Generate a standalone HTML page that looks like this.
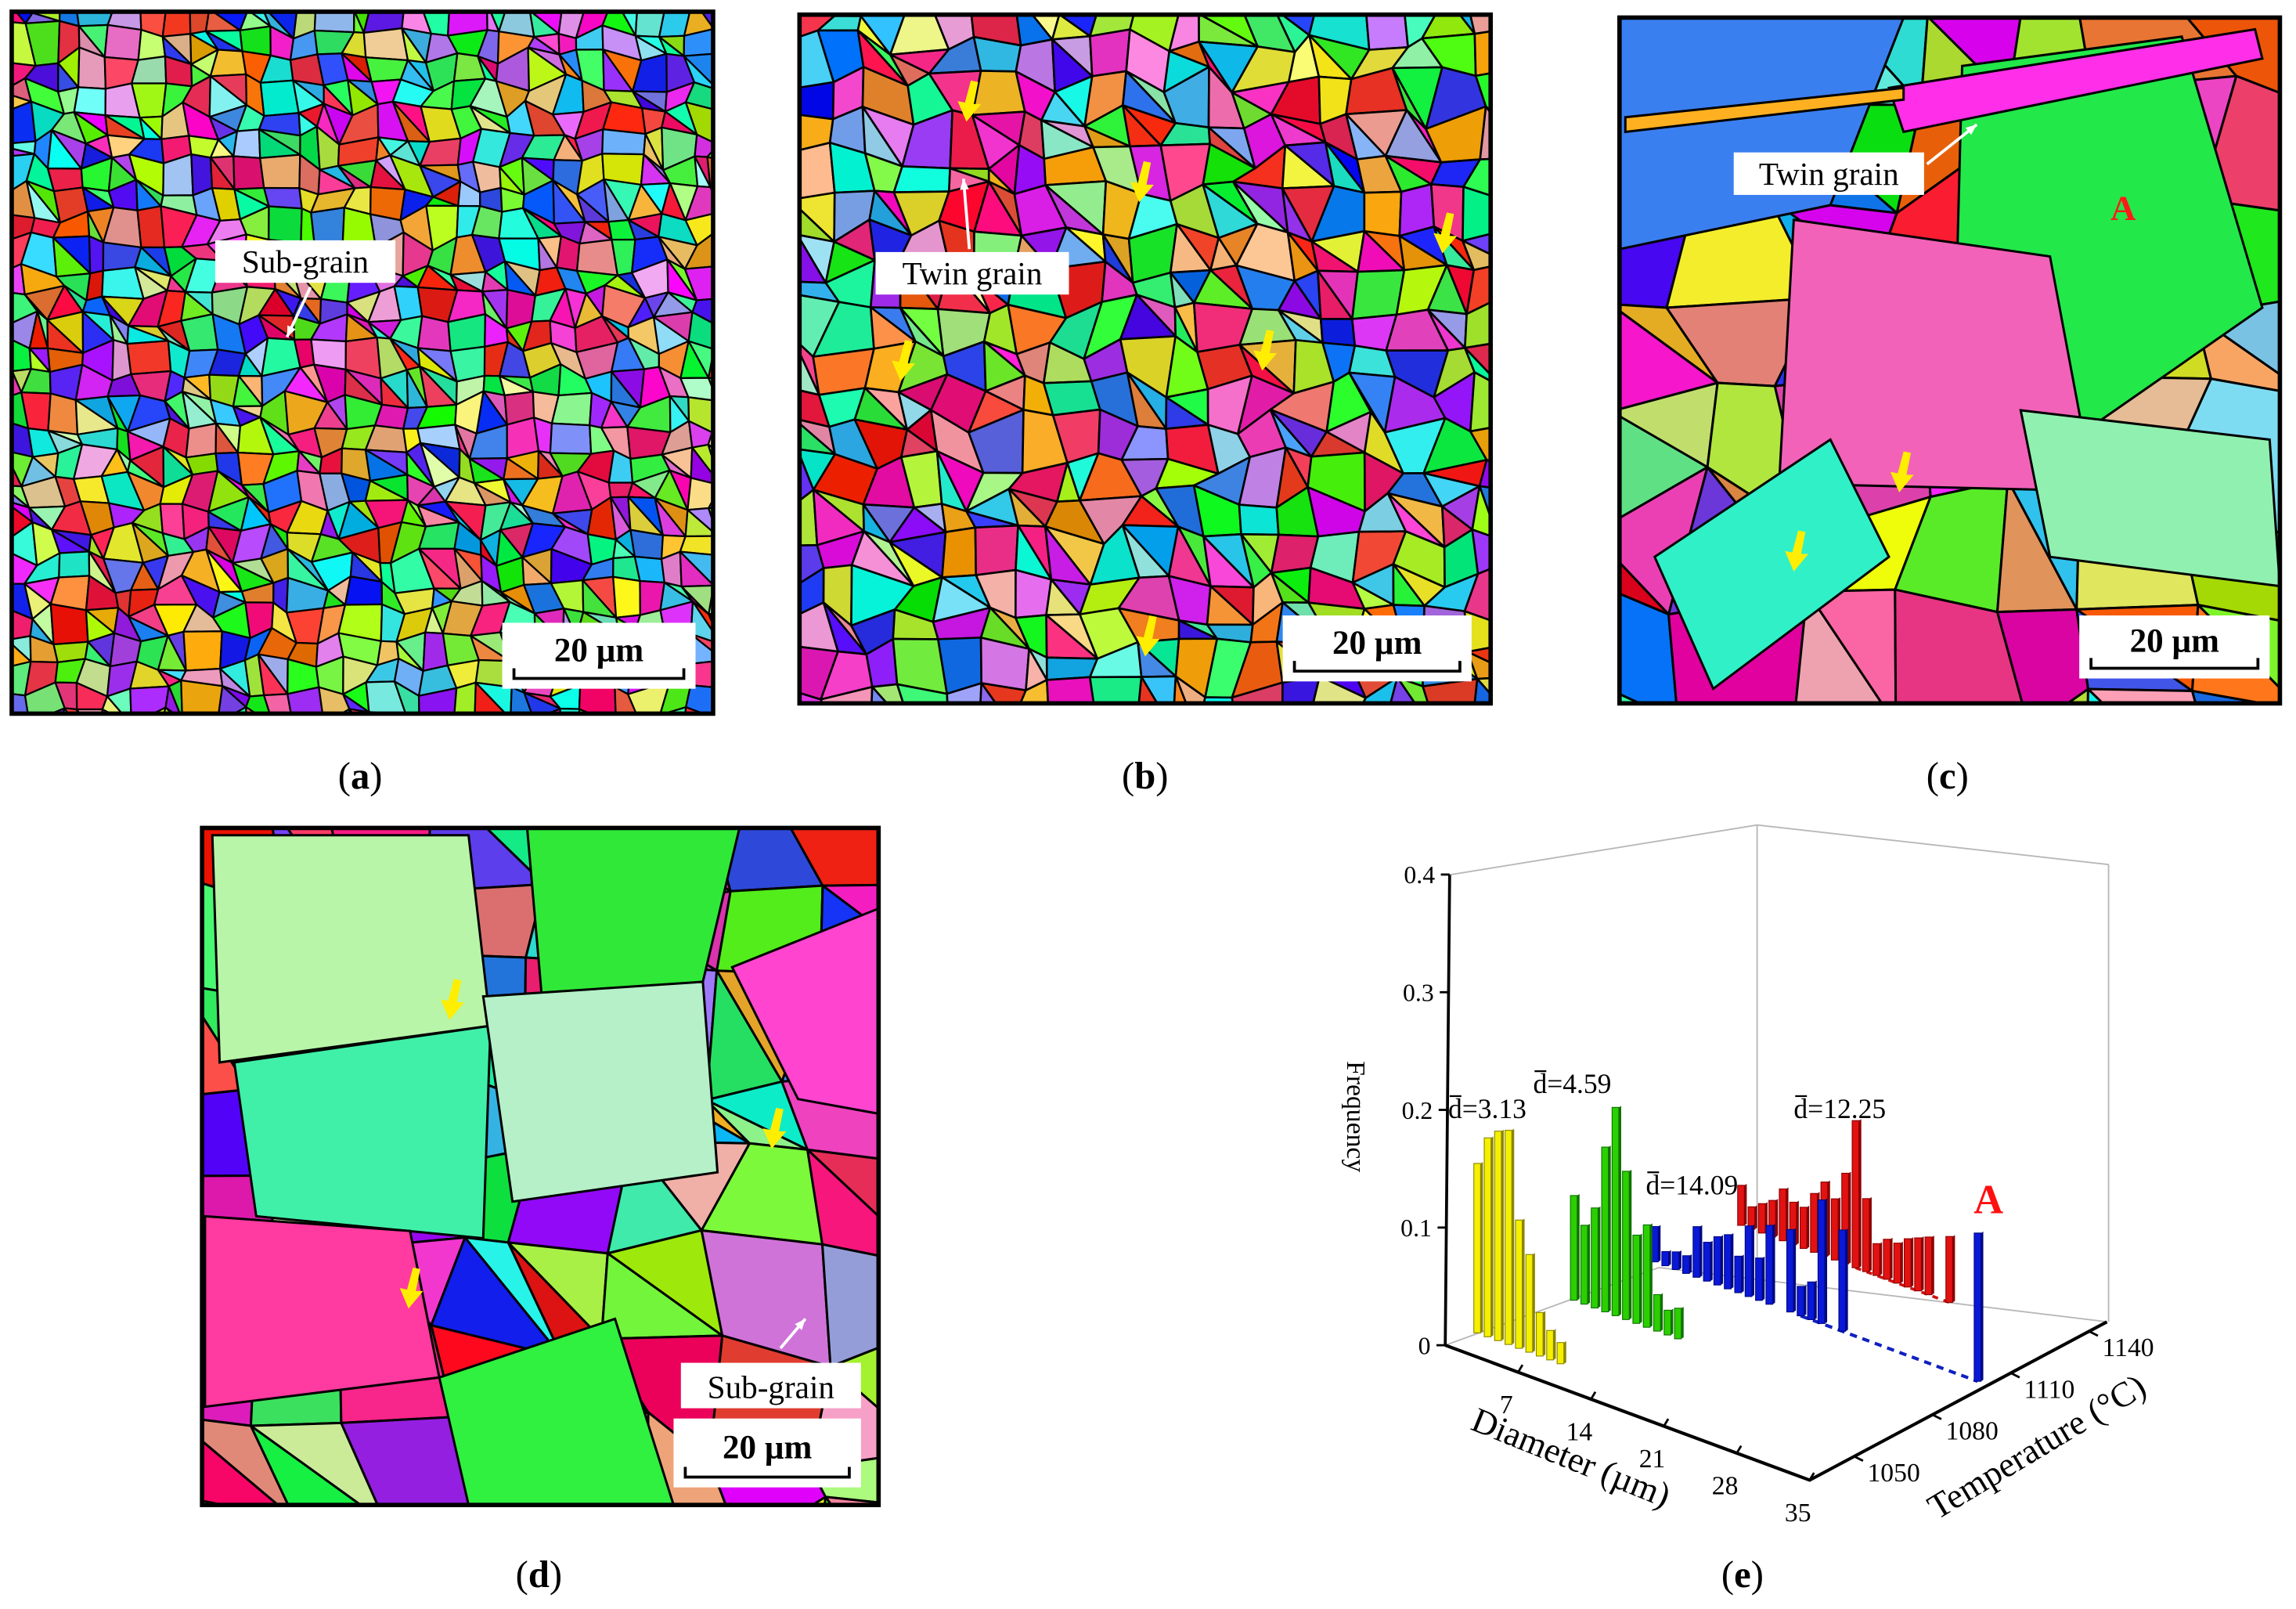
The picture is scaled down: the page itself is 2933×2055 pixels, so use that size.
<!DOCTYPE html>
<html><head><meta charset="utf-8"><title>EBSD maps and grain size distribution</title>
<style>
html,body{margin:0;padding:0;background:#fff;}
svg{display:block;}
text{font-family:"Liberation Serif",serif;}
</style></head>
<body>
<svg id="fig" xmlns="http://www.w3.org/2000/svg" width="2933" height="2055" viewBox="0 0 1568 1098" preserveAspectRatio="none">
<defs>
<clipPath id="clipA"><rect x="8" y="8" width="479" height="479"/></clipPath>
<clipPath id="clipB"><rect x="546" y="10" width="472" height="470"/></clipPath>
<clipPath id="clipC"><rect x="1106" y="12" width="451" height="468"/></clipPath>
<clipPath id="clipD"><rect x="138" y="565" width="462" height="462"/></clipPath>
</defs>
<rect x="0" y="0" width="1568" height="1098" fill="#fff"/>
<g id="panelA" clip-path="url(#clipA)"></g>
<g id="panelB" clip-path="url(#clipB)"></g>
<g id="panelC" clip-path="url(#clipC)"></g>
<g id="panelD" clip-path="url(#clipD)"></g>
<g id="overlays"></g>
<g id="chart"></g>
<g font-size="26" text-anchor="middle">
<text x="246" y="538">(<tspan font-weight="bold">a</tspan>)</text>
<text x="782" y="538">(<tspan font-weight="bold">b</tspan>)</text>
<text x="1330" y="538">(<tspan font-weight="bold">c</tspan>)</text>
<text x="368" y="1083">(<tspan font-weight="bold">d</tspan>)</text>
<text x="1190" y="1083">(<tspan font-weight="bold">e</tspan>)</text>
</g>
</svg>
<script>
// ---------- chart data (panel e) ----------
const freqTicks = [0, 0.1, 0.2, 0.3, 0.4];
const diamTicks = [7, 14, 21, 28, 35];
const tempTicks = [1050, 1080, 1110, 1140];
const yellowD = [0.5,1.5,2.5,3.5,4.5,5.5,6.5,7.5,8.5];
const yellowF = [0.144,0.169,0.178,0.182,0.109,0.083,0.037,0.025,0.018];
const greenD = [2.5,3.5,4.5,5.5,6.5,7.5,8.5,9.5,10.5,11.5,12.5];
const greenF = [0.089,0.067,0.085,0.140,0.177,0.126,0.075,0.087,0.031,0.021,0.026];
const blueD = [3,4,5,6,7,8,9,10,11,12,13,14,16,17,18,19,21,34];
const blueF = [0.030,0.012,0.015,0.015,0.043,0.033,0.041,0.046,0.031,0.060,0.036,0.067,0.070,0.025,0.032,0.105,0.086,0.126];
const redD = [4,5,6,7,8,9,10,11,12,13,14,15,16,17,18,19,20,21,22,24];
const redF = [0.034,0.019,0.025,0.031,0.044,0.036,0.035,0.050,0.063,0.052,0.077,0.125,0.062,0.027,0.034,0.034,0.041,0.045,0.049,0.056];
const rowTemps = [1050, 1080, 1110, 1140];

const NS = "http://www.w3.org/2000/svg";
function mk(tag, attrs, parent){
  const e = document.createElementNS(NS, tag);
  for (const k in attrs) e.setAttribute(k, attrs[k]);
  if (parent) parent.appendChild(e);
  return e;
}
function rowT(T){ return 0.09 + (T-1050)*0.0085; }
function tickT(T){ return 0.15 + (T-1050)*0.00878; }
function projX(d,t){ return 987 + 7.11*d + 203*t; }
function projY(d,t){ return 918 + 2.63*d - 108*t; }
function fy(f){ return f*803; }

const chart = document.getElementById('chart');
const walls = [[990,597,1200,563],[1200,563,1440,590],[1440,590,1440,902],[1200,563,1200,868],[987,918,1133,865],[1133,865,1439,902]];
walls.forEach(w=>{
  const l = mk('line',{x1:w[0],y1:w[1],x2:w[2],y2:w[3],stroke:'#b8b8b8','stroke-width':1},chart);
  
  
});
const ax = mk('path',{d:`M${projX(0,0)},${projY(0,0)} L${projX(35,0)},${projY(35,0)} L${projX(35,1)},${projY(35,1)}`,fill:'none',stroke:'#000','stroke-width':2.2},chart);


const yax = mk('line',{x1:987,y1:918,x2:990,y2:597,stroke:'#000','stroke-width':2},chart);


freqTicks.forEach(f=>{
  const y = 918 - fy(f), x = 987 + 3*(f/0.4);
  const t = mk('line',{x1:x-6,y1:y,x2:x,y2:y,stroke:'#000','stroke-width':1.5},chart);
  
  
  const lb = mk('text',{x:x-10,y:y+6,'font-size':17,'text-anchor':'end'},chart);
  lb.textContent = f===0 ? '0' : f.toFixed(1);
  
  
});
diamTicks.forEach(d=>{
  const x = projX(d,0), y = projY(d,0);
  const t = mk('line',{x1:x,y1:y,x2:x+3,y2:y-5,stroke:'#000','stroke-width':1.5},chart);
  
  
  const lb = mk('text',{x:x-8,y:y+28,'font-size':18,'text-anchor':'middle'},chart);
  lb.textContent = String(d);
  
  
});
tempTicks.forEach(T=>{
  const x = projX(35,tickT(T)), y = projY(35,tickT(T));
  const t = mk('line',{x1:x,y1:y,x2:x+6,y2:y+3,stroke:'#000','stroke-width':1.5},chart);
  
  
  const lb = mk('text',{x:x+9,y:y+17,'font-size':18,'text-anchor':'start'},chart);
  lb.textContent = String(T);
  
  
});
const ft = mk('text',{x:0,y:0,'font-size':18,'text-anchor':'middle',transform:'translate(920,762) rotate(90)'},chart);
ft.textContent='Frequency';


const dt = mk('text',{x:0,y:0,'font-size':24,'text-anchor':'middle',transform:'translate(1070,1002) rotate(22)'},chart);
dt.textContent='Diameter (µm)';


const tt = mk('text',{x:0,y:0,'font-size':24,'text-anchor':'middle',transform:'translate(1395,994) rotate(-31)'},chart);
tt.textContent='Temperature (°C)';



function drawSeries(name, D, F, T, fill, dark){
  const g = mk('g',{},chart);
  
  
  const t = rowT(T);
  for (let i=0;i<D.length;i++){
    const x = projX(D[i],t), y = projY(D[i],t), h = fy(F[i]);
    const bw = 4.6;
    const side = mk('polygon',{points:`${x+bw/2},${y} ${x+bw/2+1.6},${y-1} ${x+bw/2+1.6},${y-h-1} ${x+bw/2},${y-h}`,fill:dark},g);
    
    
    const r = mk('rect',{x:x-bw/2,y:y-h,width:bw,height:h,fill:fill,stroke:dark,'stroke-width':0.6},g);
    
    
  }
  return g;
}
(function(){
  const t = rowT(1140);
  const l = mk('line',{x1:projX(15,t),y1:projY(15,t),x2:projX(24,t),y2:projY(24,t),stroke:'#d01010','stroke-width':2,'stroke-dasharray':'4,4'},chart);
  
  
})();
drawSeries('series-1140', redD, redF, rowTemps[3], '#e31212', '#8a0000');
(function(){
  const t = rowT(1110);
  const l = mk('line',{x1:projX(17,t),y1:projY(17,t),x2:projX(34,t),y2:projY(34,t),stroke:'#1020c0','stroke-width':2.2,'stroke-dasharray':'5,4'},chart);
  
  
})();
drawSeries('series-1110', blueD, blueF, rowTemps[2], '#0a18d8', '#000880');
drawSeries('series-1080', greenD, greenF, rowTemps[1], '#2ad000', '#107000');
drawSeries('series-1050', yellowD, yellowF, rowTemps[0], '#f5f000', '#8a8500');

function dbar(x,y,val,name){
  const tx = mk('text',{x:x,y:y,'font-size':19},chart);
  tx.textContent = 'd=' + val;
  
  
  const ol = mk('line',{x1:x+1,y1:y-15,x2:x+9,y2:y-15,stroke:'#000','stroke-width':1.2},chart);
  
  
}
dbar(989,763,'3.13','mean-diameter-1050');
dbar(1047,746,'4.59','mean-diameter-1080');
dbar(1124,815,'14.09','mean-diameter-1110');
dbar(1225,763,'12.25','mean-diameter-1140');
const aLbl = mk('text',{x:1358,y:828,'font-size':28,'font-weight':'bold',fill:'#ff1010','text-anchor':'middle'},chart);
aLbl.textContent='A';



// ---------- EBSD mosaics (decorative) ----------
let seed = 12345;
function rnd(){ seed = (seed*1103515245 + 12345) % 2147483648; return seed/2147483648; }
function hsv(h,s,v){
  const f=(n)=>{const k=(n+h/60)%6; return v - v*s*Math.max(Math.min(k,4-k,1),0);};
  return `rgb(${Math.round(f(5)*255)},${Math.round(f(3)*255)},${Math.round(f(1)*255)})`;
}
const hues = [0,20,35,55,75,95,115,130,150,170,190,210,230,250,270,290,310,330,345];
function randColor(){
  const h = hues[Math.floor(rnd()*hues.length)] + rnd()*10;
  const s = rnd()<0.2 ? 0.3+rnd()*0.3 : 0.7+rnd()*0.3;
  const v = 0.85+rnd()*0.15;
  return hsv(h%360,s,v);
}
function mosaic(id,x0,y0,w,h,cell,sw){
  const g = document.getElementById(id);
  const nx = Math.ceil(w/cell)+1, ny = Math.ceil(h/cell)+1;
  const P = [];
  for (let j=0;j<=ny;j++){ P.push([]); for (let i=0;i<=nx;i++){
    P[j].push([x0+(i-0.3)*cell+(rnd()-0.5)*cell*0.7, y0+(j-0.3)*cell+(rnd()-0.5)*cell*0.7]); } }
  let s='';
  for (let j=0;j<ny;j++) for (let i=0;i<nx;i++){
    const a=P[j][i],b=P[j][i+1],c=P[j+1][i+1],d=P[j+1][i];
    if (rnd()<0.35){
      s += `<polygon points="${a} ${b} ${c}" fill="${randColor()}"/>`;
      s += `<polygon points="${a} ${c} ${d}" fill="${randColor()}"/>`;
    } else {
      s += `<polygon points="${a} ${b} ${c} ${d}" fill="${randColor()}"/>`;
    }
  }
  g.innerHTML = `<g stroke="#000" stroke-width="${sw}" stroke-linejoin="round">${s}</g>`;
}
mosaic('panelA',8,8,479,479,18,1.2);
mosaic('panelB',546,10,472,470,26,1.4);
mosaic('panelC',1106,12,451,468,70,1.6);
mosaic('panelD',138,565,462,462,62,1.6);
document.getElementById('panelC').insertAdjacentHTML('beforeend',
 `<g stroke="#000" stroke-width="1.6">
 <polygon points="1106,12 1300,12 1250,140 1106,170" fill="#3a7ff0"/>
 <polygon points="1340,45 1490,25 1545,210 1430,290 1335,240" fill="#22e84a"/>
 <polygon points="1225,150 1400,175 1430,335 1215,330" fill="#f262b8"/>
 <polygon points="1290,60 1540,20 1545,40 1300,90" fill="#ff2ee8"/>
 <polygon points="1380,280 1550,300 1557,400 1400,380" fill="#90f0b0"/>
 <polygon points="1110,80 1300,60 1300,68 1110,90" fill="#ffb020"/>
 <polygon points="1130,380 1250,300 1290,380 1170,470" fill="#30f0c8"/>
 </g>`);
document.getElementById('panelD').insertAdjacentHTML('beforeend',
 `<g stroke="#000" stroke-width="1.6">
 <polygon points="145,570 320,570 335,700 150,725" fill="#b8f5a8"/>
 <polygon points="160,725 335,700 330,845 175,830" fill="#40f0a8"/>
 <polygon points="360,565 505,565 480,670 370,680" fill="#30e838"/>
 <polygon points="500,660 600,620 600,760 545,750" fill="#ff44d0"/>
 <polygon points="330,680 480,670 490,800 350,820" fill="#b5f0c8"/>
 <polygon points="140,830 280,840 300,940 140,960" fill="#ff3aa0"/>
 <polygon points="300,940 420,900 460,1027 320,1027" fill="#30f040"/>
 </g>`);
const ov = document.getElementById('overlays');
function border(x,y,w,h,name){ const r=mk('rect',{x:x,y:y,width:w,height:h,fill:'none',stroke:'#000','stroke-width':3},ov);   }
border(8,8,479,479,'panel-a-border');
border(546,10,472,470,'panel-b-border');
border(1106,12,451,468,'panel-c-border');
border(138,565,462,462,'panel-d-border');
function labelBox(x,y,w,h,txt,name){
  const r=mk('rect',{x:x,y:y,width:w,height:h,fill:'#fff'},ov);
   
  const t=mk('text',{x:x+w/2,y:y+h-7,'font-size':22,'text-anchor':'middle'},ov);
  t.textContent=txt;  
}
function whiteArrow(x1,y1,x2,y2,name){
  const l=mk('line',{x1:x1,y1:y1,x2:x2,y2:y2,stroke:'#fff','stroke-width':2},ov);
   
  const a=Math.atan2(y2-y1,x2-x1), s=8;
  const p=mk('polygon',{points:`${x2},${y2} ${x2-s*Math.cos(a-0.4)},${y2-s*Math.sin(a-0.4)} ${x2-s*Math.cos(a+0.4)},${y2-s*Math.sin(a+0.4)}`,fill:'#fff'},ov);
   
}
function yArrow(x,y,name){
  const p=mk('polygon',{points:`${x+3},${y} ${x+8},${y+1} ${x+5},${y+16} ${x+10},${y+16} ${x},${y+28} ${x-6},${y+14} ${x-1},${y+15}`,fill:'#ffee00'},ov);
   
}
function scaleBar(x,y,w,h,name){
  const r=mk('rect',{x:x,y:y,width:w,height:h,fill:'#fff'},ov);
   
  const t=mk('text',{x:x+w/2,y:y+h*0.58,'font-size':23,'font-weight':'bold','text-anchor':'middle'},ov);
  t.textContent='20 µm';  
  const b=mk('path',{d:`M${x+8},${y+h-14} v7 H${x+w-8} v-7`,fill:'none',stroke:'#000','stroke-width':2},ov);
   
}
labelBox(147,164,123,29,'Sub-grain','panel-a-subgrain-label');
whiteArrow(212,196,196,230,'panel-a-subgrain-arrow');
labelBox(598,172,132,29,'Twin grain','panel-b-twin-label');
whiteArrow(662,170,658,122,'panel-b-twin-arrow');
labelBox(1184,104,130,29,'Twin grain','panel-c-twin-label');
whiteArrow(1316,112,1350,85,'panel-c-twin-arrow');
labelBox(465,930,123,31,'Sub-grain','panel-d-subgrain-label');
whiteArrow(533,920,550,900,'panel-d-subgrain-arrow');
const cA=mk('text',{x:1450,y:150,'font-size':24,'font-weight':'bold',fill:'#ff1a1a','text-anchor':'middle'},ov);
cA.textContent='A';  
[[660,55],[778,110],[985,145],[615,232],[862,225],[782,420]].forEach(p=>yArrow(p[0],p[1],'panel-b-yellow-arrow'));
[[1297,308],[1225,362]].forEach(p=>yArrow(p[0],p[1],'panel-c-yellow-arrow'));
[[307,668],[527,756],[279,865]].forEach(p=>yArrow(p[0],p[1],'panel-d-yellow-arrow'));
scaleBar(343,425,132,45,'panel-a-scale-bar');
scaleBar(876,420,129,45,'panel-b-scale-bar');
scaleBar(1420,420,130,43,'panel-c-scale-bar');
scaleBar(460,968,128,47,'panel-d-scale-bar');
</script>
</body></html>
